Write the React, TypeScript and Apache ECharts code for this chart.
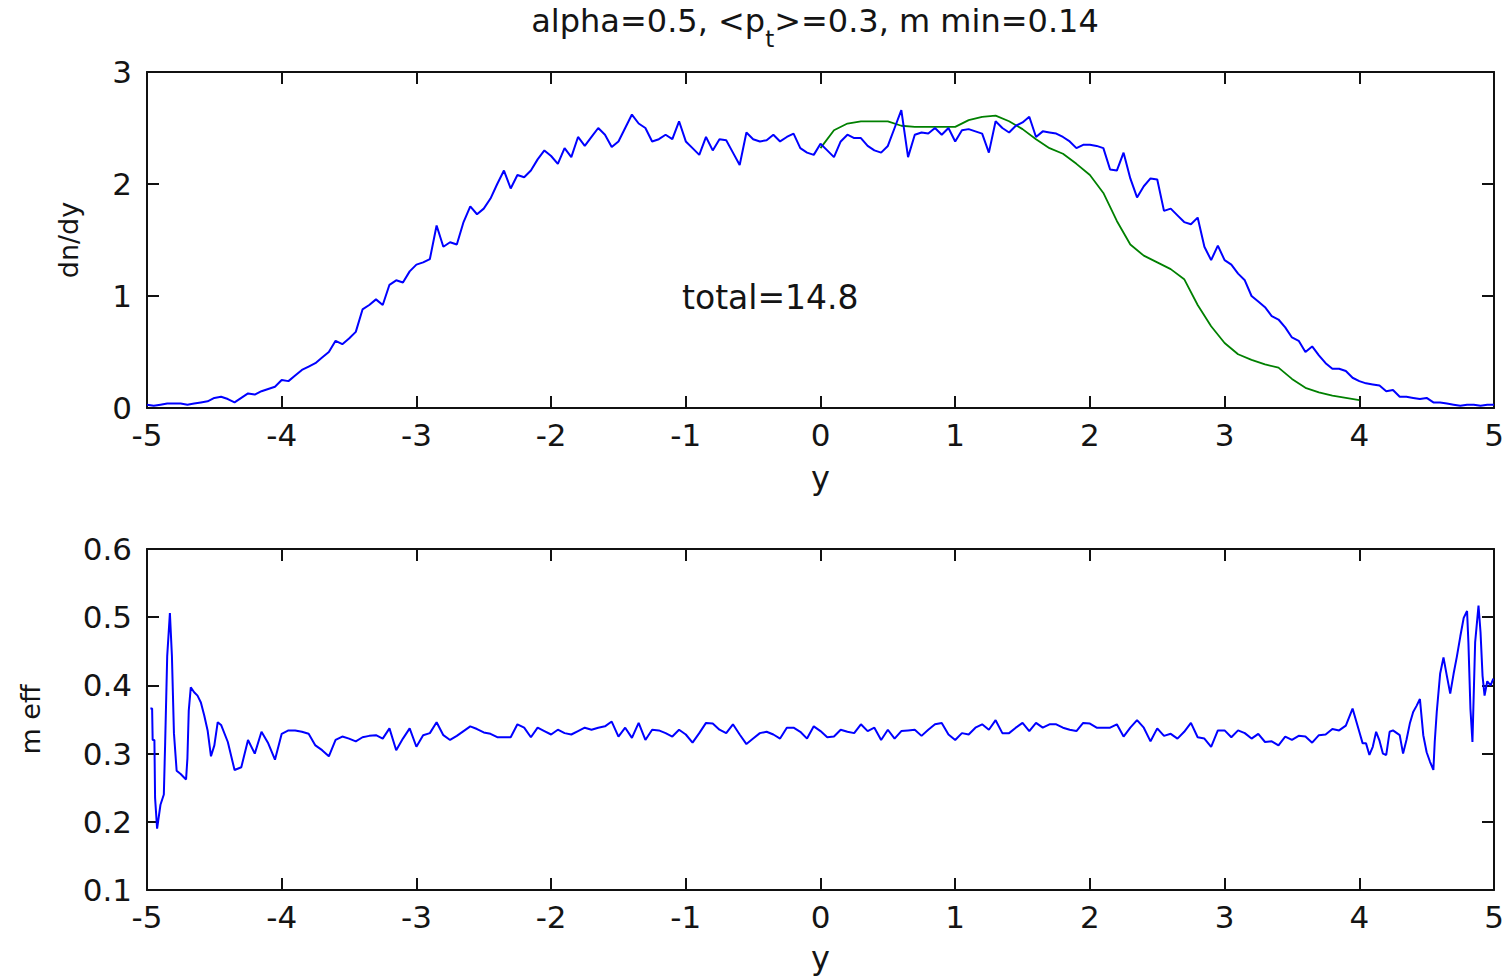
import React, { useEffect, useRef } from "react";
import * as echarts from "echarts";

// ---------------- data ----------------
const TITLE_MAIN_A = "alpha=0.5, <p";
const TITLE_SUB = "t";
const TITLE_MAIN_B = ">=0.3, m min=0.14";
const TOTAL_LABEL = "total=14.8";

// dn/dy (blue), y from -5 to 5 step 0.05
const DNDY_START = -5;
const DNDY_STEP = 0.05;
const DNDY: number[] = [
  0.03, 0.02, 0.03, 0.04, 0.04, 0.04, 0.03, 0.04, 0.05, 0.06,
  0.09, 0.10, 0.08, 0.05, 0.09, 0.13, 0.12, 0.15, 0.17, 0.19,
  0.25, 0.24, 0.29, 0.34, 0.37, 0.40, 0.45, 0.50, 0.60, 0.57,
  0.62, 0.68, 0.88, 0.92, 0.97, 0.92, 1.10, 1.14, 1.12, 1.22,
  1.28, 1.30, 1.33, 1.63, 1.44, 1.48, 1.46, 1.66, 1.80, 1.73,
  1.78, 1.87, 2.00, 2.12, 1.96, 2.08, 2.06, 2.12, 2.22, 2.30,
  2.25, 2.18, 2.32, 2.24, 2.42, 2.34, 2.42, 2.50, 2.44, 2.33,
  2.38, 2.50, 2.62, 2.54, 2.50, 2.38, 2.40, 2.44, 2.40, 2.56,
  2.38, 2.32, 2.26, 2.42, 2.30, 2.40, 2.39, 2.28, 2.17, 2.46,
  2.40, 2.38, 2.39, 2.44, 2.38, 2.42, 2.45, 2.32, 2.28, 2.26,
  2.36, 2.30, 2.24, 2.38, 2.44, 2.41, 2.41, 2.34, 2.30, 2.28,
  2.34, 2.50, 2.66, 2.24, 2.44, 2.46, 2.45, 2.50, 2.44, 2.50,
  2.38, 2.48, 2.49, 2.47, 2.45, 2.28, 2.56, 2.50, 2.46, 2.52,
  2.55, 2.60, 2.42, 2.47, 2.46, 2.45, 2.42, 2.38, 2.32, 2.35,
  2.35, 2.34, 2.32, 2.13, 2.12, 2.28, 2.05, 1.88, 1.98, 2.05,
  2.04, 1.76, 1.78, 1.72, 1.66, 1.64, 1.70, 1.44, 1.32, 1.45,
  1.32, 1.28, 1.20, 1.14, 1.00, 0.95, 0.90, 0.82, 0.79, 0.72,
  0.63, 0.60, 0.50, 0.55, 0.47, 0.40, 0.35, 0.35, 0.33, 0.27,
  0.24, 0.22, 0.21, 0.20, 0.15, 0.16, 0.10, 0.10, 0.09, 0.08,
  0.09, 0.05, 0.05, 0.04, 0.03, 0.02, 0.03, 0.03, 0.02, 0.03,
  0.03,
];

// dn/dy (green), y from 0 to 4 step 0.1
const GREEN_START = 0;
const GREEN_STEP = 0.1;
const GREEN: number[] = [
  2.32, 2.48, 2.54, 2.56, 2.56, 2.56, 2.52, 2.51, 2.51, 2.51,
  2.51, 2.57, 2.60, 2.61, 2.56, 2.49, 2.40, 2.32, 2.27, 2.18,
  2.08, 1.92, 1.67, 1.46, 1.36, 1.30, 1.24, 1.15, 0.92, 0.73,
  0.58, 0.48, 0.43, 0.39, 0.36, 0.26, 0.18, 0.14, 0.11, 0.09,
  0.07,
];

// m eff, left edge (finer sampling)
const MEFF_LEFT: [number, number][] = [
  [-4.975, 0.366], [-4.962, 0.366], [-4.958, 0.32], [-4.945, 0.32], [-4.94, 0.235],
  [-4.925, 0.19], [-4.9, 0.225], [-4.875, 0.24], [-4.865, 0.317], [-4.85, 0.443],
  [-4.83, 0.506], [-4.815, 0.443], [-4.8, 0.33], [-4.78, 0.275], [-4.75, 0.27],
  [-4.725, 0.265], [-4.71, 0.262], [-4.7, 0.293], [-4.69, 0.363], [-4.675, 0.397],
  [-4.65, 0.39], [-4.625, 0.385], [-4.6, 0.375], [-4.575, 0.356], [-4.55, 0.334],
  [-4.525, 0.296], [-4.5, 0.312], [-4.475, 0.346],
];

// m eff, middle, y from -4.45 to 4.00 step 0.05
const MEFF_MID_START = -4.45;
const MEFF_MID_STEP = 0.05;
const MEFF_MID: number[] = [
  0.342, 0.317, 0.276, 0.280, 0.320, 0.300, 0.332, 0.315, 0.291, 0.329,
  0.334, 0.334, 0.332, 0.329, 0.312, 0.305, 0.296, 0.320, 0.325, 0.322,
  0.318, 0.324, 0.326, 0.327, 0.322, 0.337, 0.305, 0.322, 0.337, 0.310,
  0.327, 0.330, 0.346, 0.327, 0.320, 0.326, 0.333, 0.340, 0.336, 0.331,
  0.329, 0.324, 0.324, 0.324, 0.343, 0.338, 0.324, 0.338, 0.333, 0.328,
  0.335, 0.330, 0.328, 0.333, 0.338, 0.335, 0.338, 0.340, 0.347, 0.325,
  0.338, 0.323, 0.345, 0.320, 0.335, 0.334, 0.330, 0.325, 0.335, 0.328,
  0.316, 0.330, 0.345, 0.344, 0.335, 0.330, 0.343, 0.328, 0.314, 0.322,
  0.330, 0.332, 0.328, 0.322, 0.338, 0.338, 0.332, 0.322, 0.340, 0.333,
  0.324, 0.325, 0.335, 0.332, 0.330, 0.343, 0.333, 0.338, 0.320, 0.335,
  0.322, 0.333, 0.334, 0.335, 0.326, 0.335, 0.343, 0.345, 0.328, 0.320,
  0.330, 0.328, 0.338, 0.343, 0.335, 0.349, 0.330, 0.330, 0.338, 0.345,
  0.333, 0.345, 0.338, 0.343, 0.343, 0.338, 0.335, 0.333, 0.345, 0.344,
  0.338, 0.338, 0.338, 0.343, 0.325, 0.338, 0.349, 0.338, 0.318, 0.337,
  0.326, 0.329, 0.322, 0.332, 0.345, 0.324, 0.322, 0.310, 0.334, 0.334,
  0.324, 0.334, 0.330, 0.322, 0.329, 0.317, 0.318, 0.312, 0.325, 0.320,
  0.326, 0.325, 0.316, 0.327, 0.328, 0.336, 0.334, 0.341, 0.366, 0.332,
];

// m eff, right edge (finer sampling)
const MEFF_RIGHT: [number, number][] = [
  [4.025, 0.315], [4.05, 0.315], [4.075, 0.298], [4.1, 0.31], [4.125, 0.332],
  [4.15, 0.319], [4.175, 0.3], [4.2, 0.298], [4.225, 0.332], [4.25, 0.334],
  [4.3, 0.327], [4.325, 0.3], [4.35, 0.32], [4.375, 0.344], [4.4, 0.361],
  [4.425, 0.37], [4.45, 0.38], [4.475, 0.327], [4.5, 0.302], [4.525, 0.288],
  [4.55, 0.276], [4.56, 0.317], [4.575, 0.361], [4.6, 0.417], [4.625, 0.441],
  [4.65, 0.414], [4.675, 0.388], [4.7, 0.417], [4.725, 0.443], [4.75, 0.472],
  [4.775, 0.499], [4.8, 0.509], [4.81, 0.463], [4.825, 0.366], [4.84, 0.317],
  [4.86, 0.463], [4.885, 0.517], [4.9, 0.478], [4.915, 0.414], [4.93, 0.385],
  [4.95, 0.406], [4.975, 0.4], [4.995, 0.41],
];

const X_MIN = -5;
const X_MAX = 5;
const X_INTERVAL = 1;
const TOP_Y_MIN = 0;
const TOP_Y_MAX = 3;
const TOP_Y_INTERVAL = 1;
const BOT_Y_MIN = 0.1;
const BOT_Y_MAX = 0.6;
const BOT_Y_INTERVAL = 0.1;

// ---------------- helpers ----------------
const gridPairs = (start: number, step: number, vals: number[]): [number, number][] =>
  vals.map((v, i) => [Number((start + i * step).toFixed(4)), v]);

const FONT = "DejaVu Sans";
const AXIS_COLOR = "#111";
const TEXT_COLOR = "#141414";

function frameAxes(gridIndex: number, isX: boolean, min: number, max: number, interval: number, fmt?: (v: number) => string, name?: string, nameGap?: number) {
  const common = {
    gridIndex,
    type: "value" as const,
    min,
    max,
    interval,
    splitLine: { show: false },
    axisLine: { show: true, onZero: false, lineStyle: { color: AXIS_COLOR, width: 2 } },
    axisTick: { show: true, inside: true, length: 12, lineStyle: { color: AXIS_COLOR, width: 2 } },
  };
  const main: any = {
    ...common,
    position: isX ? "bottom" : "left",
    axisLabel: {
      show: true,
      color: TEXT_COLOR,
      fontFamily: FONT,
      fontSize: 31,
      margin: isX ? 11 : 15,
      formatter: fmt,
    },
  };
  if (name) {
    main.name = name;
    main.nameLocation = "middle";
    main.nameGap = nameGap;
    main.nameTextStyle = { color: TEXT_COLOR, fontFamily: FONT, fontSize: isX ? 32 : 27 };
    if (!isX) main.nameRotate = 90;
  }
  const opp: any = {
    ...common,
    position: isX ? "top" : "right",
    axisLabel: { show: false },
  };
  return [main, opp];
}

export default function App() {
  const ref = useRef<HTMLDivElement>(null);

  useEffect(() => {
    if (!ref.current) return;
    const chart = echarts.init(ref.current, undefined, { renderer: "svg" });

    const blueTop = gridPairs(DNDY_START, DNDY_STEP, DNDY);
    const greenTop = gridPairs(GREEN_START, GREEN_STEP, GREEN);
    const meff = [...MEFF_LEFT, ...gridPairs(MEFF_MID_START, MEFF_MID_STEP, MEFF_MID), ...MEFF_RIGHT];

    const intFmt = (v: number) => String(Math.round(v));
    const oneDec = (v: number) => v.toFixed(1);

    const [x0, x0t] = frameAxes(0, true, X_MIN, X_MAX, X_INTERVAL, intFmt, "y", 54);
    const [x1, x1t] = frameAxes(1, true, X_MIN, X_MAX, X_INTERVAL, intFmt, "y", 52);
    const [y0, y0r] = frameAxes(0, false, TOP_Y_MIN, TOP_Y_MAX, TOP_Y_INTERVAL, intFmt, "dn/dy", 65);
    const [y1, y1r] = frameAxes(1, false, BOT_Y_MIN, BOT_Y_MAX, BOT_Y_INTERVAL, oneDec, "m eff", 103);

    chart.setOption({
      animation: false,
      backgroundColor: "#ffffff",
      grid: [
        { left: 147, top: 72, width: 1347, height: 336, containLabel: false },
        { left: 147, top: 549, width: 1347, height: 341, containLabel: false },
      ],
      xAxis: [x0, x0t, x1, x1t],
      yAxis: [y0, y0r, y1, y1r],
      series: [
        {
          type: "line",
          name: "dn/dy",
          xAxisIndex: 0,
          yAxisIndex: 0,
          data: blueTop,
          showSymbol: false,
          symbol: "none",
          lineStyle: { color: "#0000ff", width: 2 },
          z: 3,
        },
        {
          type: "line",
          name: "dn/dy (green)",
          xAxisIndex: 0,
          yAxisIndex: 0,
          data: greenTop,
          showSymbol: false,
          symbol: "none",
          lineStyle: { color: "#008000", width: 1.8 },
          z: 2,
        },
        {
          type: "line",
          name: "m eff",
          xAxisIndex: 2,
          yAxisIndex: 2,
          data: meff,
          showSymbol: false,
          symbol: "none",
          lineStyle: { color: "#0000ff", width: 2 },
        },
      ],
      graphic: [
        {
          type: "text",
          x: 815,
          y: 5,
          style: {
            text: `{a|${TITLE_MAIN_A}}{s|${TITLE_SUB}}{a|${TITLE_MAIN_B}}`,
            align: "center",
            verticalAlign: "top",
            fill: TEXT_COLOR,
            rich: {
              a: { fontFamily: FONT, fontSize: 32, lineHeight: 36, verticalAlign: "top", fill: TEXT_COLOR },
              s: { fontFamily: FONT, fontSize: 23, lineHeight: 45, verticalAlign: "bottom", fill: TEXT_COLOR },
            },
          },
        },
        {
          type: "text",
          x: 682,
          y: 297,
          style: {
            text: TOTAL_LABEL,
            align: "left",
            verticalAlign: "middle",
            fontFamily: FONT,
            fontSize: 33,
            fill: TEXT_COLOR,
          },
        },
      ],
    });

    return () => chart.dispose();
  }, []);

  return (
    <div
      ref={ref}
      style={{ position: "absolute", left: 0, top: 0, width: 1511, height: 977, background: "#fff" }}
    />
  );
}
